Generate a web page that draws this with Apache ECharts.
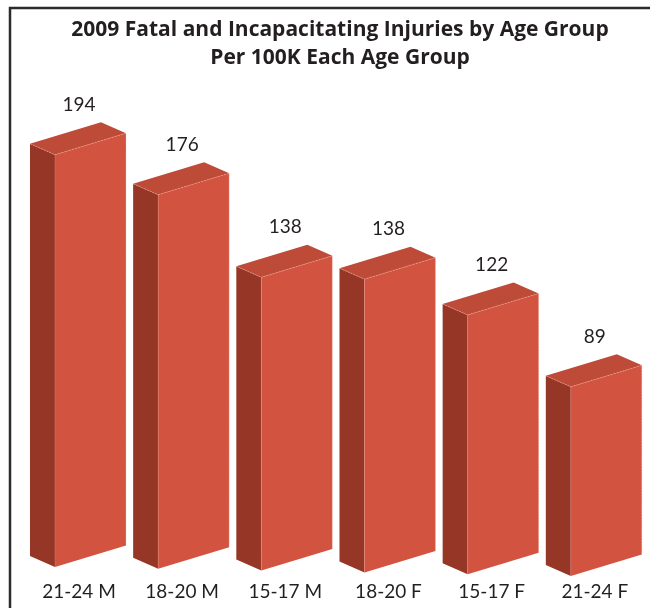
<!DOCTYPE html>
<html>
<head>
<meta charset="utf-8">
<script src="https://cdn.jsdelivr.net/npm/echarts@6/dist/echarts.min.js"></script>
<style>
  html, body { margin: 0; padding: 0; background: #fff; }
  #chart { width: 650px; height: 608px; }
</style>
</head>
<body>
<div id="chart"></div>
<script>
// age groups and rates per 100K
const categories = ['21-24 M', '18-20 M', '15-17 M', '18-20 F', '15-17 F', '21-24 F']
const values = [194, 176, 138, 138, 122, 89]

const titleText = '2009 Fatal and Incapacitating Injuries by Age Group\nPer 100K Each Age Group'

const FONT = 'Lato'
const frontColor = '#d2533f'
const sideColor = '#953626'
const topColor = '#be4b37'

// 3d box look
const faceW = 71
const depthX = 25
const depthY = 11
const rise = 21.5
const rowSlope = 1.8 / 103.2

const chart = echarts.init(document.getElementById('chart'))

const renderBox = (params, api) => {
  const i = api.value(0)
  const v = api.value(1)
  const base = api.coord([i, 0])
  const top = api.coord([i, v])
  const c0 = api.coord([0, 0])[0]
  const shift = (base[0] - c0) * rowSlope
  const fx = base[0] - 24
  const by = base[1] + shift
  const ty = top[1] + shift

  const front = [[fx, by], [fx + faceW, by - rise], [fx + faceW, ty - rise], [fx, ty]]
  const left = [[fx - depthX, by - depthY], [fx, by], [fx, ty], [fx - depthX, ty - depthY]]
  const lid = [[fx - depthX, ty - depthY], [fx, ty], [fx + faceW, ty - rise], [fx + faceW - depthX, ty - rise - depthY]]

  return {
    type: 'group',
    children: [
      { type: 'polygon', shape: { points: left }, style: { fill: sideColor } },
      { type: 'polygon', shape: { points: front }, style: { fill: frontColor } },
      { type: 'polygon', shape: { points: lid }, style: { fill: topColor } },
      {
        type: 'polyline',
        shape: { points: [[fx - depthX, ty - depthY], [fx, ty], [fx + faceW, ty - rise], [fx + faceW, by - rise]] },
        style: { stroke: 'rgba(255,190,175,0.7)', lineWidth: 0.6, lineDash: [2, 1], fill: null },
      },
      {
        type: 'line',
        shape: { x1: fx, y1: ty, x2: fx, y2: by },
        style: { stroke: 'rgba(255,190,175,0.35)', lineWidth: 0.6 },
      },
      {
        type: 'text',
        style: {
          text: String(v),
          x: base[0],
          y: ty - 50,
          align: 'center',
          verticalAlign: 'middle',
          fontFamily: FONT,
          fontSize: 19,
          fill: '#231f20',
        },
      },
    ],
  }
}

const option = {
  animation: false,
  title: {
    text: titleText,
    left: 335,
    textAlign: 'center',
    top: 11,
    textStyle: {
      fontFamily: 'Open Sans',
      fontWeight: 'bold',
      fontSize: 21,
      lineHeight: 28,
      color: '#231f20',
    },
  },
  graphic: [
    {
      type: 'polyline',
      shape: { points: [[10, 610], [10, 8], [652, 8]] },
      style: { stroke: '#2b2b2b', lineWidth: 2.5, fill: null },
    },
  ],
  grid: {
    left: 27.4,
    width: 619,
    top: 142,
    bottom: 41,
  },
  xAxis: {
    type: 'category',
    data: categories,
    axisLine: { show: false },
    axisTick: { show: false },
    axisLabel: {
      margin: 15,
      fontFamily: FONT,
      fontSize: 19,
      color: '#231f20',
    },
  },
  yAxis: {
    type: 'value',
    min: 0,
    max: 200,
    show: false,
    splitLine: { show: false },
  },
  series: [
    {
      type: 'custom',
      renderItem: renderBox,
      data: values.map((v, i) => [i, v]),
    },
  ],
}

chart.setOption(option)
</script>
</body>
</html>
